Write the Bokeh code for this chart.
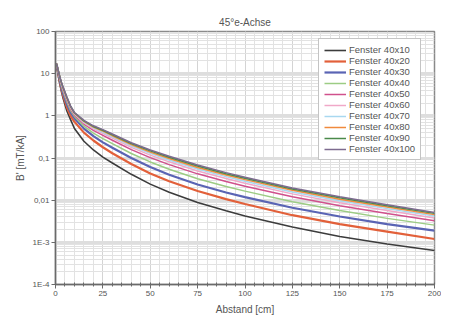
from bokeh.plotting import figure
from bokeh.models import FixedTicker, CustomJSTickFormatter, Legend, LegendItem, Range1d
from bokeh.embed import file_html
from bokeh.resources import INLINE

# ---- data ----
distance = [0.5, 1, 2, 3, 4, 6, 8, 10, 15, 20, 25, 30, 40, 50, 60, 75, 90, 100, 125, 150, 175, 200]

f40x10 = [16, 12, 6.5, 4.0, 2.6, 1.3, 0.8, 0.5, 0.25, 0.155, 0.105, 0.076, 0.041, 0.024, 0.0155,
          0.0088, 0.0056, 0.0042, 0.0023, 0.00138, 0.00091, 0.00064]
f40x20 = [16.5, 13, 7.5, 4.5, 3.0, 1.6, 1.0, 0.72, 0.40, 0.26, 0.18, 0.13, 0.072, 0.043, 0.028,
          0.0165, 0.0106, 0.0081, 0.0044, 0.0027, 0.0018, 0.0012]
f40x30 = [17, 13.5, 8, 5, 3.4, 1.9, 1.2, 0.88, 0.5, 0.33, 0.235, 0.175, 0.1, 0.061, 0.04,
          0.0235, 0.0152, 0.0118, 0.0066, 0.0041, 0.0027, 0.0019]
f40x40 = [17.1, 13.8, 8.4, 5.4, 3.77, 2.13, 1.33, 0.966, 0.57, 0.39, 0.289, 0.219, 0.128, 0.0807, 0.0542,
          0.0323, 0.0210, 0.0164, 0.00914, 0.00566, 0.0037, 0.00256]
f40x50 = [17.2, 14.0, 8.8, 5.8, 4.1, 2.35, 1.45, 1.04, 0.64, 0.45, 0.344, 0.264, 0.158, 0.102, 0.0697,
          0.0421, 0.0276, 0.0215, 0.0120, 0.0074, 0.00484, 0.00327]
f40x60 = [17.3, 14.1, 9.0, 6.0, 4.3, 2.5, 1.53, 1.09, 0.68, 0.49, 0.382, 0.296, 0.179, 0.117, 0.0811,
          0.0494, 0.0325, 0.0252, 0.0141, 0.0087, 0.00568, 0.0038]
f40x70 = [17.3, 14.2, 9.2, 6.2, 4.5, 2.59, 1.58, 1.13, 0.71, 0.52, 0.409, 0.318, 0.195, 0.129, 0.0897,
          0.055, 0.0362, 0.0282, 0.0157, 0.0097, 0.0063, 0.0042]
f40x80 = [17.4, 14.3, 9.3, 6.3, 4.6, 2.67, 1.63, 1.16, 0.74, 0.54, 0.433, 0.338, 0.208, 0.138, 0.0973,
          0.0598, 0.0394, 0.0307, 0.0171, 0.0105, 0.00687, 0.00454]
f40x90 = [17.4, 14.4, 9.4, 6.4, 4.7, 2.75, 1.67, 1.18, 0.76, 0.56, 0.454, 0.356, 0.221, 0.148, 0.1045,
          0.0644, 0.0425, 0.0331, 0.0185, 0.0114, 0.0074, 0.00486]
f40x100 = [17.5, 14.5, 9.5, 6.5, 4.8, 2.8, 1.7, 1.2, 0.78, 0.58, 0.47, 0.37, 0.23, 0.155, 0.11,
           0.068, 0.045, 0.035, 0.0195, 0.012, 0.0078, 0.0051]

series_names = ["Fenster 40x10", "Fenster 40x20", "Fenster 40x30", "Fenster 40x40", "Fenster 40x50",
                "Fenster 40x60", "Fenster 40x70", "Fenster 40x80", "Fenster 40x90", "Fenster 40x100"]
series_values = [f40x10, f40x20, f40x30, f40x40, f40x50, f40x60, f40x70, f40x80, f40x90, f40x100]
series_colors = ["#3c3c3c", "#e2603a", "#5a64b4", "#9ccc84", "#d0508c",
                 "#f0a8c8", "#a8d8f0", "#f08a3c", "#4a8a4a", "#7d6b8f"]
series_widths = [1.6, 2.2, 2.2, 1.5, 1.5, 1.5, 1.5, 1.5, 1.5, 1.5]

x_ticks = [0, 25, 50, 75, 100, 125, 150, 175, 200]
x_minor = [v for v in range(0, 201, 5)]
y_ticks = [1e-4, 1e-3, 1e-2, 1e-1, 1, 10, 100]
y_minor = [m * 10.0 ** e for e in range(-4, 2) for m in range(2, 10)]

title_text = "45°e-Achse"
x_label = "Abstand [cm]"
y_label = "B' [mT/kA]"

FONT = "Liberation Sans"

p = figure(width=441, height=318, output_backend="svg", toolbar_location=None,
           y_axis_type="log", x_range=Range1d(0, 200), y_range=Range1d(1e-4, 100),
           title=title_text)
p.min_border_left = 55
p.min_border_right = 7
p.min_border_top = 31
p.min_border_bottom = 34
p.background_fill_color = "white"
p.border_fill_color = "white"
p.outline_line_color = "#8a8a8a"
p.outline_line_width = 1.5

p.title.align = "center"
p.title.vertical_align = "top"
p.title.text_font = FONT
p.title.text_font_size = "10px"
p.title.text_font_style = "normal"
p.title.text_color = "#555555"
p.title.offset = 0
p.title.standoff = 4

# axes
xa = p.xaxis[0]
xa.ticker = FixedTicker(ticks=x_ticks, minor_ticks=x_minor)
xa.axis_label = x_label
ya = p.yaxis[0]
ya.ticker = FixedTicker(ticks=y_ticks, minor_ticks=y_minor)
ya.axis_label = y_label
ya.formatter = CustomJSTickFormatter(code="""
const e = Math.round(Math.log10(tick));
const m = {"2": "100", "1": "10", "0": "1", "-1": "0,1", "-2": "0,01", "-3": "1E-3", "-4": "1E-4"};
return m[String(e)];
""")
for ax in (xa, ya):
    ax.axis_line_color = "#6a6a6a"
    ax.axis_line_width = 1.5
    ax.major_tick_line_color = "#6a6a6a"
    ax.major_tick_in = 0
    ax.major_tick_out = 4
    ax.major_label_text_font = FONT
    ax.major_label_text_font_size = "8px"
    ax.major_label_text_color = "#555555"
    ax.major_label_standoff = 2
    ax.axis_label_text_font = FONT
    ax.axis_label_text_font_size = "10px"
    ax.axis_label_text_font_style = "normal"
    ax.axis_label_text_color = "#555555"
xa.axis_label_standoff = 5
ya.axis_label_standoff = 4
xa.minor_tick_line_color = "#6a6a6a"
xa.minor_tick_in = 2
xa.minor_tick_out = 2
ya.minor_tick_line_color = None

# grid
p.xgrid.grid_line_color = "#d4d4d4"
p.xgrid.grid_line_width = 1
p.xgrid.minor_grid_line_color = "#e2e2e2"
p.ygrid.grid_line_color = "#dedede"
p.ygrid.grid_line_width = 3
p.ygrid.minor_grid_line_color = "#e2e2e2"

items = []
for name, vals, col, w in zip(series_names, series_values, series_colors, series_widths):
    r = p.line(distance, vals, line_color=col, line_width=w)
    items.append(LegendItem(label=name, renderers=[r]))

legend = Legend(items=items, location=(263, 124))
legend.label_text_font = FONT
legend.label_text_font_size = "9.5px"
legend.label_text_color = "#555555"
legend.glyph_height = 10
legend.glyph_width = 22
legend.label_height = 10
legend.label_standoff = 3
legend.spacing = 0
legend.padding = 5
legend.margin = 0
legend.border_line_color = "#8a8a8a"
legend.border_line_width = 1.5
legend.background_fill_color = "white"
legend.background_fill_alpha = 1
p.add_layout(legend)

open("out.html", "w").write(file_html(p, INLINE))
